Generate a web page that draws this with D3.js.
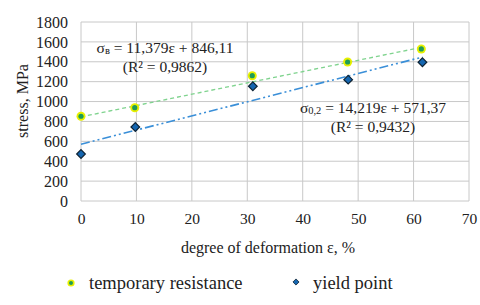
<!DOCTYPE html>
<html>
<head>
<meta charset="utf-8">
<script src="https://cdn.jsdelivr.net/npm/d3@7"></script>
<style>
  body { margin: 0; background: #fff; }
  svg, svg text { font-family: "Liberation Serif", "DejaVu Serif", serif; fill: #222; }
</style>
</head>
<body>
<div id="chart"></div>
<script>
// data
const deformation = [0, 9.7, 30.9, 48.1, 61.4];
const tempResistance = [852, 938, 1260, 1398, 1529];
const yieldDeform = [0, 9.8, 31, 48.2, 61.6];
const yieldPoint = [473, 744, 1154, 1220, 1395];
const xTicks = [0, 10, 20, 30, 40, 50, 60, 70];
const yTicks = [0, 200, 400, 600, 800, 1000, 1200, 1400, 1600, 1800];
// trend lines (slope, intercept) from the chart
const trendTemp = [11.379, 846.11];
const trendYield = [14.219, 571.37];

const svgWidth = 480, svgHeight = 305,
    margin = { top: 22, right: 11, bottom: 104, left: 81 },
    width = svgWidth - margin.left - margin.right,
    height = svgHeight - margin.top - margin.bottom;

const serif = "Liberation Serif, DejaVu Serif, serif";

const svg = d3.select("#chart").append("svg")
    .attr("width", svgWidth)
    .attr("height", svgHeight)
    .attr("font-family", serif);

const g = svg.append("g").attr("transform", `translate(${margin.left},${margin.top})`);

const x = d3.scaleLinear().domain([0, 70]).range([0, width]);
const y = d3.scaleLinear().domain([0, 1800]).range([height, 0]);

// grid
g.selectAll(".hgrid").data(yTicks).join("line")
    .attr("x1", 0).attr("x2", width)
    .attr("y1", d => y(d)).attr("y2", d => y(d))
    .attr("stroke", "#c8c8c8").attr("stroke-width", 1);
g.selectAll(".vgrid").data(xTicks).join("line")
    .attr("y1", 0).attr("y2", height)
    .attr("x1", d => x(d)).attr("x2", d => x(d))
    .attr("stroke", "#c8c8c8").attr("stroke-width", 1);

// axes (labels only)
const xAxis = g.append("g").attr("transform", `translate(0,${height})`)
    .call(d3.axisBottom(x).tickValues(xTicks).tickFormat(d3.format("d")).tickSize(0).tickPadding(12));
const yAxis = g.append("g")
    .call(d3.axisLeft(y).tickValues(yTicks).tickFormat(d3.format("d")).tickSize(0).tickPadding(13));
[xAxis, yAxis].forEach(a => {
  a.attr("font-family", serif);
  a.select(".domain").remove();
  a.selectAll("text").attr("fill", "#222");
});
xAxis.selectAll("text").attr("font-size", 15.5);
yAxis.selectAll("text").attr("font-size", 16);

// trend lines
const line = d3.line().x(d => x(d[0])).y(d => y(d[1]));
const tempEnd = d3.max(deformation), yieldEnd = d3.max(yieldDeform);
g.append("path")
    .attr("d", line([[0, trendTemp[1]], [tempEnd, trendTemp[0] * tempEnd + trendTemp[1]]]))
    .attr("stroke", "#7fd38e").attr("stroke-width", 1.3)
    .attr("stroke-dasharray", "4,3").attr("fill", "none");
g.append("path")
    .attr("d", line([[0, trendYield[1]], [yieldEnd, trendYield[0] * yieldEnd + trendYield[1]]]))
    .attr("stroke", "#3a8fd8").attr("stroke-width", 1.6)
    .attr("stroke-dasharray", "9,3,2,3,2,3").attr("fill", "none");

// markers
const tempData = deformation.map((d, i) => [d, tempResistance[i]]);
const yieldData = yieldDeform.map((d, i) => [d, yieldPoint[i]]);

g.selectAll(".tp").data(tempData).join("circle")
    .attr("cx", d => x(d[0])).attr("cy", d => y(d[1]))
    .attr("r", 4.5).attr("fill", "#e8f000");
g.selectAll(".tpc").data(tempData).join("circle")
    .attr("cx", d => x(d[0])).attr("cy", d => y(d[1]))
    .attr("r", 2.6).attr("fill", "#1e9c58");

const diamond = d3.symbol().type(d3.symbolDiamond2).size(48);
g.selectAll(".yp").data(yieldData).join("path")
    .attr("d", diamond)
    .attr("transform", d => `translate(${x(d[0])},${y(d[1])})`)
    .attr("fill", "#1566b0").attr("stroke", "#0d2233").attr("stroke-width", 1.2);

// equations
function equation(cx, cy, sub, rest, r2) {
  const t = svg.append("text").attr("x", cx).attr("y", cy)
      .attr("text-anchor", "middle").attr("font-size", 15.5);
  t.append("tspan").text("σ");
  t.append("tspan").attr("font-size", 10.5).attr("dy", 1).text(sub);
  t.append("tspan").attr("dy", -1).text(rest);
  svg.append("text").attr("x", cx).attr("y", cy + 19)
      .attr("text-anchor", "middle").attr("font-size", 15.5).text(r2);
}
equation(165, 53, "в", " = 11,379ε + 846,11", "(R² = 0,9862)");
equation(373, 113, "0,2", " = 14,219ε + 571,37", "(R² = 0,9432)");

// axis titles
svg.append("text").attr("x", 268).attr("y", 253)
    .attr("text-anchor", "middle").attr("font-size", 16)
    .text("degree of deformation ε, %");
svg.append("text")
    .attr("transform", "translate(28,101) rotate(-90)")
    .attr("text-anchor", "middle").attr("font-size", 16)
    .text("stress, MPa");

// legend
const legend = svg.append("g");
legend.append("circle").attr("cx", 71).attr("cy", 283).attr("r", 3.6).attr("fill", "#e8f000");
legend.append("circle").attr("cx", 71).attr("cy", 283).attr("r", 2).attr("fill", "#1e9c58");
legend.append("text").attr("x", 89).attr("y", 289).attr("font-size", 18.5).text("temporary resistance");
legend.append("path").attr("d", d3.symbol().type(d3.symbolDiamond2).size(24))
    .attr("transform", "translate(296,282)")
    .attr("fill", "#1566b0").attr("stroke", "#0d2233").attr("stroke-width", 0.8);
legend.append("text").attr("x", 313).attr("y", 289).attr("font-size", 18.5).text("yield point");
</script>
</body>
</html>
